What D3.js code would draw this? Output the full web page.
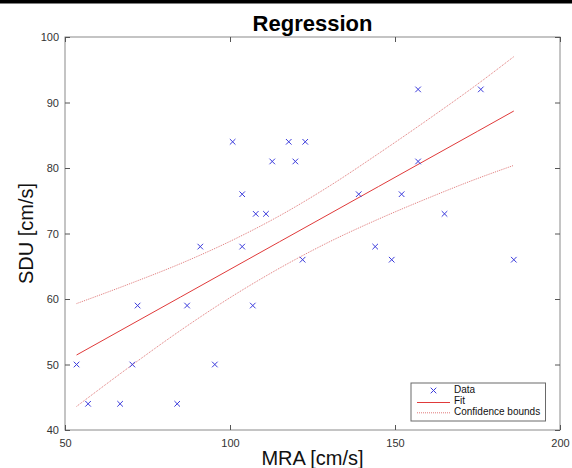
<!DOCTYPE html>
<html><head><meta charset="utf-8">
<script src="https://cdn.jsdelivr.net/npm/d3@7"></script>
<style>body{margin:0;background:#fff}</style>
</head><body>
<script>
// Data
const mra = [53.5,57,66.7,70.4,72,84,87,91,95.4,103.7,106.9,
             100.8,103.7,107.8,110.9,112.8,117.8,119.8,
             122.8,157,176,157,139,152,165,144,122,149,186];
const sdu = [50,44,44,50,59,44,59,68,50,68,59,
             84,76,73,73,81,84,81,
             84,92,92,81,76,76,73,68,66,66,66];
const curveX = [53.5,70,85,100,115,130,145,160,175,186];
const fitY   = [51.45,56.09,60.30,64.52,68.74,72.95,77.17,81.39,85.60,88.70];
const upperY = [59.3,62.4,65.4,68.8,72.7,77.2,82.2,87.4,92.8,97.0];
const lowerY = [43.6,49.8,55.2,60.2,64.7,68.7,72.2,75.4,78.4,80.4];
const xTicks = [50,100,150,200];
const yTicks = [40,50,60,70,80,90,100];
const legendLabels = ["Data","Fit","Confidence bounds"];

const W=572,H=468;
const L=65,R=560,T=37,B=430;
const svg=d3.select("body").append("svg").attr("width",W).attr("height",H)
  .style("font-family","'Liberation Sans',Arial,Helvetica,sans-serif");

svg.append("rect").attr("x",0).attr("y",0).attr("width",W).attr("height",3.5).attr("fill","#000");

const x=d3.scaleLinear().domain([50,200]).range([L,R]);
const y=d3.scaleLinear().domain([40,100]).range([B,T]);

// frame
svg.append("rect").attr("x",L).attr("y",T).attr("width",R-L).attr("height",B-T)
  .attr("fill","none").attr("stroke","#8a8a8a").attr("stroke-width",1);

// axes with inward ticks
const tickCol="#555";
const gB=svg.append("g").attr("transform",`translate(0,${B})`)
  .call(d3.axisBottom(x).tickValues(xTicks).tickSize(-5).tickPadding(9).tickFormat(d3.format("d")));
const gT=svg.append("g").attr("transform",`translate(0,${T})`)
  .call(d3.axisTop(x).tickValues(xTicks).tickSize(-5).tickFormat(""));
const gL=svg.append("g").attr("transform",`translate(${L},0)`)
  .call(d3.axisLeft(y).tickValues(yTicks).tickSize(-5).tickPadding(6).tickFormat(d3.format("d")));
const gR=svg.append("g").attr("transform",`translate(${R},0)`)
  .call(d3.axisRight(y).tickValues(yTicks).tickSize(-5).tickFormat(""));
[gB,gT,gL,gR].forEach(g=>{
  g.select(".domain").remove();
  g.selectAll(".tick line").attr("stroke",tickCol);
  g.selectAll("text").attr("font-size",11).attr("fill","#333")
    .style("font-family","'Liberation Sans',Arial,sans-serif");
});

// confidence bounds
const line=d3.line().x(d=>x(d[0])).y(d=>y(d[1])).curve(d3.curveMonotoneX);
const boundStyle=p=>p.attr("fill","none").attr("stroke","#e07878").attr("stroke-width",1)
  .attr("stroke-dasharray","1,1");
boundStyle(svg.append("path").datum(curveX.map((v,i)=>[v,upperY[i]])).attr("d",line));
boundStyle(svg.append("path").datum(curveX.map((v,i)=>[v,lowerY[i]])).attr("d",line));
svg.append("path").datum(curveX.map((v,i)=>[v,fitY[i]])).attr("d",line)
  .attr("fill","none").attr("stroke","#e03a3a").attr("stroke-width",1);

// data markers
const ms=2.8, blue="#3b3bdc";
const cross=(g,cx,cy)=>g.append("path")
  .attr("d",`M${cx-ms},${cy-ms}L${cx+ms},${cy+ms}M${cx-ms},${cy+ms}L${cx+ms},${cy-ms}`)
  .attr("stroke",blue).attr("stroke-width",1).attr("fill","none");
const pts=svg.append("g");
mra.forEach((v,i)=>cross(pts,x(v),y(sdu[i])));

// title & labels
svg.append("text").attr("x",(L+R)/2).attr("y",31).attr("text-anchor","middle")
  .attr("font-size",22).attr("font-weight","bold").attr("fill","#000").text("Regression");
svg.append("text").attr("x",(L+R)/2).attr("y",465).attr("text-anchor","middle")
  .attr("font-size",20).attr("fill","#111").text("MRA [cm/s]");
svg.append("text").attr("transform",`translate(33,${(T+B)/2}) rotate(-90)`).attr("text-anchor","middle")
  .attr("font-size",20).attr("fill","#111").text("SDU [cm/s]");

// legend
const lg=svg.append("g");
lg.append("rect").attr("x",411).attr("y",383).attr("width",134.5).attr("height",38)
  .attr("fill","#fff").attr("stroke","#6a6a6a").attr("stroke-width",1);
cross(lg,433.5,390.5);
lg.append("line").attr("x1",417).attr("x2",450).attr("y1",402.5).attr("y2",402.5)
  .attr("stroke","#e03a3a").attr("stroke-width",1);
boundStyle(lg.append("path").attr("d","M417,412.8L450,412.8"));
[392.8,404,415.3].forEach((yy,i)=>lg.append("text").attr("x",454).attr("y",yy)
  .attr("font-size",10).attr("fill","#111").text(legendLabels[i]));
</script>
</body></html>
